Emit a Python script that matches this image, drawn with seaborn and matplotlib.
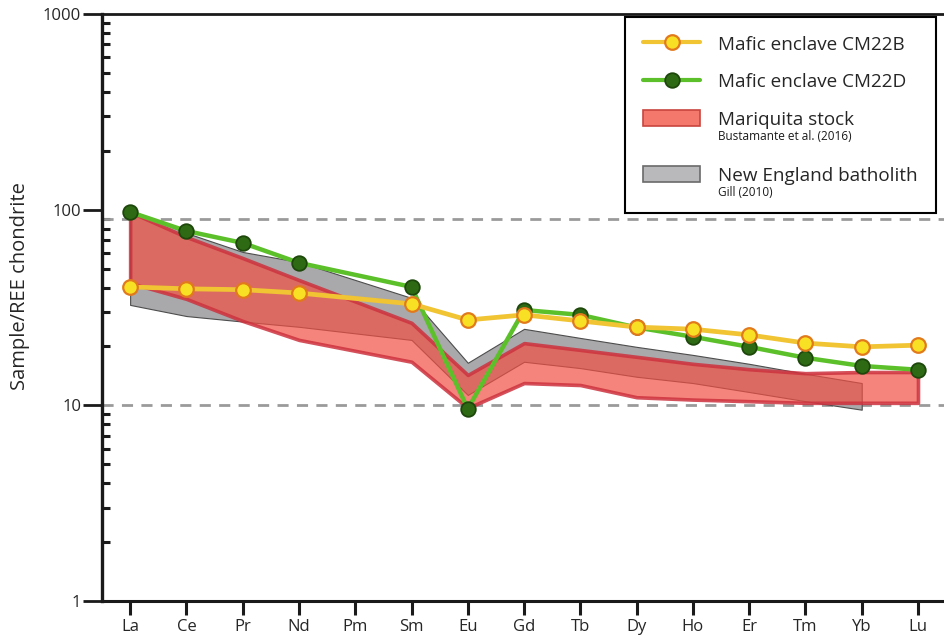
import numpy as np
import pandas as pd
import matplotlib
matplotlib.use('Agg')
import matplotlib.pyplot as plt
import seaborn as sns
from matplotlib.lines import Line2D
from matplotlib.patches import Patch
from matplotlib.ticker import LogLocator, FuncFormatter, NullFormatter, FixedLocator

# ---------------- data ----------------
elements = ['La', 'Ce', 'Pr', 'Nd', 'Pm', 'Sm', 'Eu', 'Gd', 'Tb', 'Dy', 'Ho', 'Er', 'Tm', 'Yb', 'Lu']
measured = ['La', 'Ce', 'Pr', 'Nd', 'Sm', 'Eu', 'Gd', 'Tb', 'Dy', 'Ho', 'Er', 'Tm', 'Yb', 'Lu']
cm22b = [40.3, 39.4, 39.0, 37.5, 33.0, 27.3, 29.0, 27.0, 25.1, 24.5, 22.9, 20.8, 19.9, 20.3]
cm22d = [97.3, 77.8, 67.6, 53.5, 40.3, 9.6, 30.7, 29.0, 25.0, 22.4, 19.9, 17.5, 15.9, 15.2]
mariquita_upper = [97.3, 72.5, 56.6, 43.7, 26.4, 14.3, 20.8, 19.2, 17.7, 16.3, 15.3, 14.6, 14.8, 14.8]
mariquita_lower = [42.2, 35.0, 27.0, 21.6, 16.7, 9.7, 13.0, 12.7, 11.0, 10.7, 10.5, 10.3, 10.3, 10.3]
neb_elements = ['La', 'Ce', 'Pr', 'Nd', 'Sm', 'Eu', 'Gd', 'Tb', 'Dy', 'Ho', 'Er', 'Tm', 'Yb']
neb_upper = [99.7, 76.0, 60.8, 54.0, 35.4, 16.5, 24.6, 22.1, 19.9, 18.1, 16.3, 14.5, 13.0]
neb_lower = [32.6, 28.6, 26.8, 25.2, 21.6, 11.3, 16.7, 15.5, 14.0, 13.0, 11.7, 10.5, 9.5]
ref_levels = [90, 10]
y_major = [1, 10, 100, 1000]

series_labels = ['Mafic enclave CM22B', 'Mafic enclave CM22D']
band_labels = ['Mariquita stock', 'New England batholith']
band_refs = ['Bustamante et al. (2016)', 'Gill (2010)']

# ---------------- style ----------------
sns.set_theme(style='white')
plt.rcParams['font.family'] = ['Open Sans', 'DejaVu Sans']

W, H = 945, 641
fig = plt.figure(figsize=(W / 100, H / 100), dpi=100)
ax = fig.add_axes([102 / W, 40 / H, 843 / W, 587 / H])

pos = {e: i for i, e in enumerate(elements)}
x_meas = np.array([pos[e] for e in measured], dtype=float)
x_neb = np.array([pos[e] for e in neb_elements], dtype=float)

df = pd.DataFrame({'x': x_meas, 'CM22B': cm22b, 'CM22D': cm22d})

# reference dashed lines
for lv in ref_levels:
    ax.axhline(lv, color='#9a9a9a', lw=2.0, dashes=(4, 3), zorder=1)

# New England batholith band (grey)
ax.fill_between(x_neb, neb_lower, neb_upper, facecolor='#a9a9ab',
                edgecolor='#4d4d4d', linewidth=0.8, zorder=2)

# Mariquita stock band (red, translucent)
ax.fill_between(x_meas, mariquita_lower, mariquita_upper,
                facecolor=(241 / 255, 80 / 255, 68 / 255, 0.70),
                edgecolor=(205 / 255, 50 / 255, 62 / 255, 0.85), linewidth=2.6, zorder=3)

# sample lines
sns.lineplot(data=df, x='x', y='CM22D', ax=ax, color='#5cc02a', lw=3.2,
             marker='o', markersize=10.5, markerfacecolor='#2e6a14',
             markeredgecolor='#1d470b', markeredgewidth=1.3, zorder=5)
sns.lineplot(data=df, x='x', y='CM22B', ax=ax, color='#f0c433', lw=3.4,
             marker='o', markersize=10.5, markerfacecolor='#f8e024',
             markeredgecolor='#e27a1c', markeredgewidth=1.6, zorder=6)

# axes
ax.set_yscale('log')
ax.set_ylim(1, 1000)
ax.set_xlim(-0.5, 14.48)
ax.set_xticks(range(len(elements)))
ax.set_xticklabels(elements, fontsize=12)
ax.yaxis.set_major_locator(FixedLocator(y_major))
ax.yaxis.set_major_formatter(FuncFormatter(lambda v, p: f'{int(round(v))}'))
ax.yaxis.set_minor_locator(LogLocator(base=10, subs=np.arange(2, 10)))
ax.yaxis.set_minor_formatter(NullFormatter())
ax.tick_params(axis='y', which='major', direction='out', length=14, width=2,
               color='#1a1a1a', labelsize=12, pad=1, left=True)
ax.tick_params(axis='y', which='minor', direction='in', length=6, width=2.2,
               color='#1a1a1a', left=True)
ax.tick_params(axis='x', which='major', direction='out', length=10, width=2.2,
               color='#1a1a1a', pad=3, bottom=True)
ax.set_xlabel('')
ax.set_ylabel('Sample/REE chondrite', fontsize=14.5)
ax.yaxis.set_label_coords(-0.0854, 0.537)

for side in ['left', 'top', 'bottom']:
    ax.spines[side].set_visible(True)
    ax.spines[side].set_color('#1a1a1a')
ax.spines['left'].set_linewidth(2.4)
ax.spines['top'].set_linewidth(2.0)
ax.spines['bottom'].set_linewidth(2.2)
ax.spines['right'].set_visible(False)
ax.grid(False)

# legend
handles = [
    Line2D([0], [0], color='#f0c433', lw=3, marker='o', ms=10.5, mfc='#f8e024',
           mec='#e27a1c', mew=1.6),
    Line2D([0], [0], color='#5cc02a', lw=3, marker='o', ms=10.5, mfc='#2e6a14',
           mec='#1d470b', mew=1.3),
    Patch(facecolor='#f4786b', edgecolor='#c9453f', lw=1.2),
    Patch(facecolor='#b9b9bb', edgecolor='#6a6a6a', lw=1.2),
]
labels = series_labels + band_labels
leg = ax.legend(handles, labels, loc='upper right',
                bbox_to_anchor=(1 - 9 / 843, 1 - 3 / 587), borderaxespad=0,
                frameon=True, fancybox=False, edgecolor='black', framealpha=1,
                fontsize=13.6, handlelength=3.05, handleheight=0.95,
                handletextpad=0.95, labelspacing=1.0, borderpad=0.95)
leg.get_frame().set_linewidth(1.5)
leg.set_zorder(10)

# make room below the two band entries for their source references
extra_space = {'Mariquita stock': 15, 'New England batholith': 9}  # points
for col in leg._legend_handle_box.get_children():
    for row in col.get_children():
        da, ta = row.get_children()
        lab = ta._text.get_text()
        if lab in extra_space:
            da.ydescent += extra_space[lab]
            da.height += extra_space[lab]

fig.canvas.draw()
renderer = fig.canvas.get_renderer()
band_texts = [t for t in leg.get_texts() if t.get_text() in band_labels]
for txt, ref in zip(band_texts, band_refs):
    bb = txt.get_window_extent(renderer)
    fig.text(bb.x0 / W, (bb.y0 - 1) / H, ref, fontsize=8.5, ha='left', va='top',
             color='#1a1a1a', zorder=11)

fig.savefig('out.png', dpi=100, facecolor='white')
